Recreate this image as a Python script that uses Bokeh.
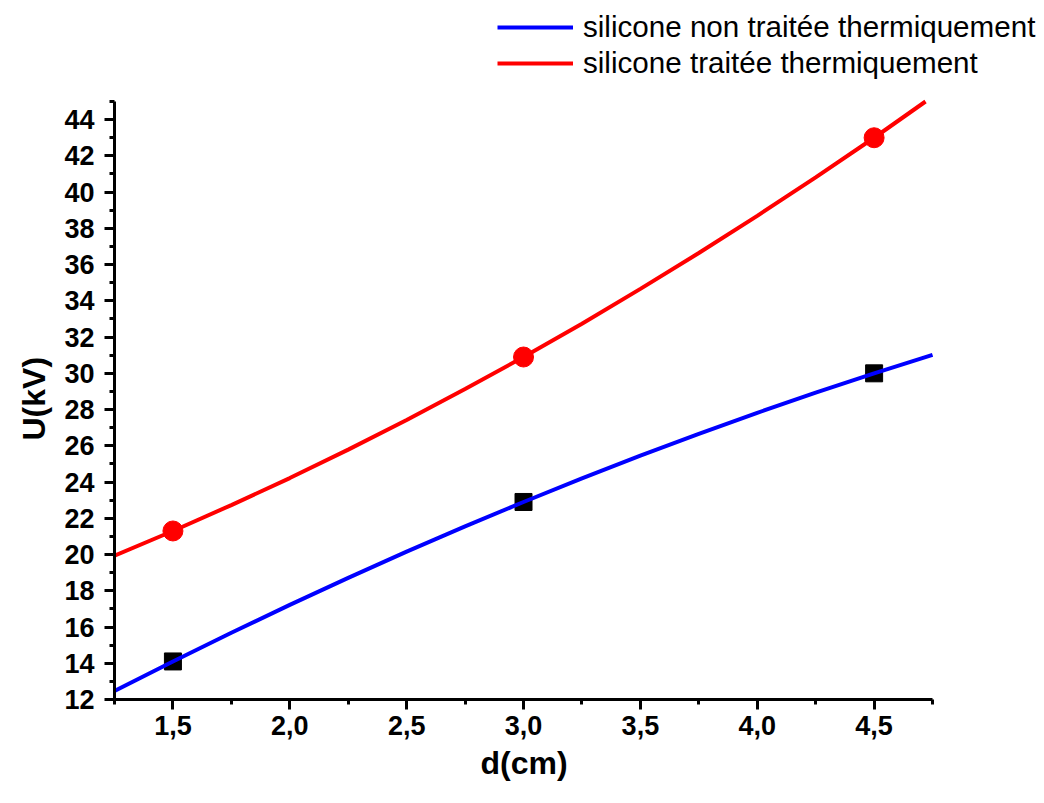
from bokeh.plotting import figure
from bokeh.models import Range1d, FixedTicker, Legend, LegendItem, Title
from bokeh.embed import file_html
from bokeh.resources import INLINE

# Measured points
d_pts = [1.5, 3.0, 4.5]
u_non_traitee = [14.1, 22.9, 30.0]
u_traitee = [21.3, 30.9, 43.0]

# Fitted curves (red curve leaves the axes at the top)
d_curve_non = [1.25, 1.5, 1.75, 2.0, 2.25, 2.5, 2.75, 3.0, 3.25, 3.5, 3.75, 4.0, 4.25, 4.5, 4.75]
u_curve_non = [12.47, 14.1, 15.68, 17.22, 18.71, 20.16, 21.55, 22.9, 24.2, 25.46, 26.66, 27.82, 28.93, 30.0, 31.02]
d_curve_tr = [1.25, 1.5, 1.75, 2.0, 2.25, 2.5, 2.75, 3.0, 3.25, 3.5, 3.75, 4.0, 4.25, 4.5, 4.72]
u_curve_tr = [19.94, 21.3, 22.73, 24.22, 25.79, 27.42, 29.13, 30.9, 32.74, 34.66, 36.64, 38.69, 40.81, 43.0, 45.0]

x_ticks = [1.5, 2.0, 2.5, 3.0, 3.5, 4.0, 4.5]
x_tick_labels = ["1,5", "2,0", "2,5", "3,0", "3,5", "4,0", "4,5"]
x_minor = [1.25, 1.75, 2.25, 2.75, 3.25, 3.75, 4.25, 4.75]
y_ticks = list(range(12, 46, 2))
y_minor = list(range(13, 46, 2))
x_axis_span = (1.25, 4.75)
y_axis_span = (12, 45)

labels = ["silicone non traitée thermiquement", "silicone traitée thermiquement"]
x_label = "d(cm)"
y_label = "U(kV)"

# frame extended to the top/right so that the legend (outside the axes) stays visible
p = figure(width=1044, height=803, output_backend="svg", toolbar_location=None,
           x_range=Range1d(1.25, 5.229), y_range=Range1d(12, 50.574),
           min_border_left=114, min_border_right=0, min_border_top=0, min_border_bottom=104)
p.outline_line_color = None
p.grid.visible = False
p.background_fill_color = "white"

p.scatter(d_pts, u_non_traitee, marker="square", size=17, color="black")
p.scatter(d_pts, u_traitee, marker="circle", size=20, color="red")
l1 = p.line(d_curve_non, u_curve_non, line_color="blue", line_width=4)
l2 = p.line(d_curve_tr, u_curve_tr, line_color="red", line_width=4)

for ax in (p.xaxis[0], p.yaxis[0]):
    ax.axis_line_width = 3
    ax.axis_line_color = "black"
    ax.major_tick_line_width = 3
    ax.minor_tick_line_width = 3
    ax.major_tick_out = 10
    ax.major_tick_in = 0
    ax.minor_tick_out = 5
    ax.minor_tick_in = 0
    ax.major_label_text_font = "Liberation Sans"
    ax.major_label_text_font_style = "bold"
    ax.major_label_text_font_size = "27px"
    ax.major_label_text_color = "black"

p.xaxis[0].bounds = x_axis_span
p.xaxis[0].ticker = FixedTicker(ticks=x_ticks, minor_ticks=x_minor)
p.xaxis[0].major_label_overrides = dict(zip(x_ticks, x_tick_labels))
p.xaxis[0].major_label_standoff = 6

p.yaxis[0].bounds = y_axis_span
p.yaxis[0].ticker = FixedTicker(ticks=y_ticks, minor_ticks=y_minor)
p.yaxis[0].major_label_standoff = 10

# axis titles, centred on the bounded axes rather than on the extended frame
xt = Title(text=x_label, align="left", offset=366, standoff=10,
           text_font="Liberation Sans", text_font_style="bold", text_font_size="32px",
           text_color="black")
p.add_layout(xt, "below")
yt = Title(text=y_label, align="left", offset=259, standoff=20,
           text_font="Liberation Sans", text_font_style="bold", text_font_size="32px",
           text_color="black")
p.add_layout(yt, "left")

legend = Legend(items=[LegendItem(label=labels[0], renderers=[l1]),
                       LegendItem(label=labels[1], renderers=[l2])],
                location=(383, 619.5), orientation="vertical",
                glyph_width=76, glyph_height=30, label_height=30, spacing=2,
                padding=0, margin=0, label_standoff=10,
                label_text_font="Liberation Sans", label_text_font_size="29.6px",
                label_text_color="black",
                border_line_color=None, background_fill_alpha=0)
p.add_layout(legend, "center")

open("out.html", "w").write(file_html(p, INLINE))
